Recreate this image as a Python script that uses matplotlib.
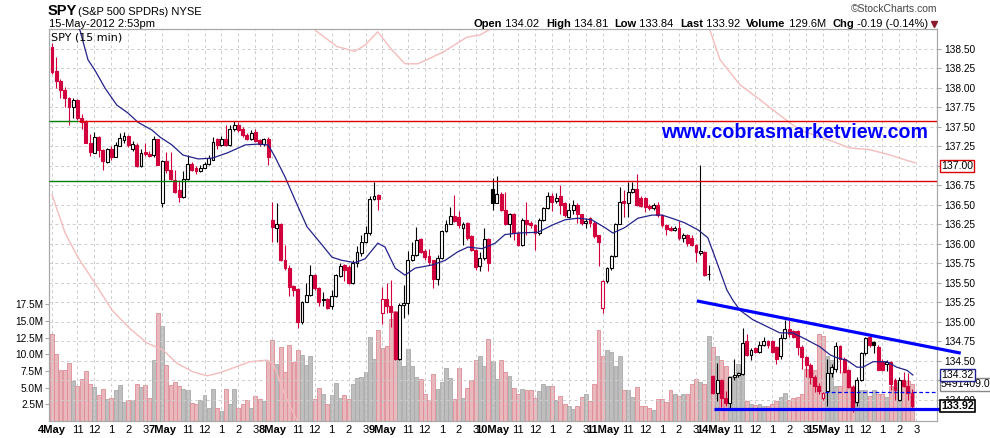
import numpy as np
import matplotlib
matplotlib.use("Agg")
import matplotlib.pyplot as plt
from matplotlib.lines import Line2D
import matplotlib.transforms as mtransforms

plt.rcParams['font.family'] = ['Liberation Sans', 'DejaVu Sans']

# ---------------- data ----------------
days = ["4May", "7May", "8May", "9May", "10May", "11May", "14May", "15May"]
bars_per_day = 26
hour_offsets = [6, 10, 14, 18, 22]
hour_labels = ["11", "12", "1", "2", "3"]

opens = [
    138.53,138.22,138.09,137.97,137.87,137.75,137.85,137.62,137.57,137.30,137.17,137.37,137.21,137.05,137.22,137.12,137.26,137.33,137.39,137.22,137.27,137.00,137.18,137.15,137.14,137.34,
    136.53,137.06,136.95,136.82,136.69,136.60,136.83,137.03,136.98,136.93,136.98,137.03,137.08,137.34,137.27,137.35,137.27,137.48,137.53,137.47,137.40,137.35,137.44,137.33,137.28,137.35,
    136.31,136.21,136.26,135.79,135.69,135.46,135.42,135.00,135.26,135.35,135.60,135.44,135.28,135.30,135.20,135.33,135.59,135.73,135.71,135.50,135.75,135.88,136.02,136.14,136.58,136.63,
    135.11,135.30,135.20,135.13,134.53,135.22,135.24,135.80,135.86,136.06,135.91,135.84,135.79,135.55,135.82,136.16,136.26,136.36,136.35,136.21,136.27,136.10,135.92,135.72,135.82,136.06,
    136.70,136.53,136.64,136.44,136.26,136.39,136.14,135.99,136.31,136.27,136.24,136.14,136.31,136.46,136.62,136.55,136.62,136.52,136.35,136.44,136.50,136.38,136.27,136.33,136.27,136.11,
    135.18,135.52,135.69,135.84,136.26,136.55,136.52,136.66,136.70,136.59,136.59,136.49,136.46,136.50,136.37,136.24,136.21,136.18,136.21,136.07,136.12,136.07,135.99,135.88,135.90,135.62,
    134.31,134.09,134.26,134.02,133.96,134.29,134.32,134.33,134.75,134.58,134.66,134.62,134.71,134.75,134.75,134.68,134.56,134.79,134.91,134.88,134.88,134.68,134.55,134.45,134.30,134.18,
    134.02,134.11,134.35,134.40,134.69,134.53,134.38,134.17,133.98,134.26,134.60,134.81,134.74,134.68,134.49,134.46,134.49,134.26,134.00,134.26,134.18,134.09,
]
highs = [
    138.58,138.40,138.12,138.01,137.89,137.87,137.86,137.66,137.59,137.41,137.43,137.38,137.22,137.23,137.25,137.31,137.42,137.44,137.40,137.32,137.30,137.22,137.30,137.19,137.38,137.35,
    137.08,137.18,137.18,136.95,136.82,136.93,137.14,137.05,137.00,137.01,137.05,137.14,137.37,137.36,137.38,137.52,137.52,137.58,137.57,137.50,137.42,137.46,137.47,137.35,137.36,137.37,
    136.54,136.52,136.27,135.99,135.73,135.48,135.43,135.27,135.50,135.73,135.61,135.45,135.39,135.31,135.41,135.62,135.75,135.74,135.73,135.80,135.97,136.12,136.23,136.61,136.80,136.64,
    135.45,135.50,135.54,135.14,135.24,135.48,135.91,136.03,136.22,136.07,135.94,135.94,135.80,135.86,136.18,136.31,136.48,136.63,136.42,136.28,136.28,136.11,135.93,135.90,136.20,136.07,
    136.84,136.87,136.66,136.67,136.40,136.40,136.16,136.33,136.54,136.30,136.25,136.33,136.47,136.67,136.65,136.65,136.75,136.54,136.52,136.56,136.53,136.39,136.33,136.35,136.29,136.12,
    135.54,135.70,135.86,136.27,136.73,136.69,136.80,136.80,136.90,136.61,136.60,136.51,136.53,136.54,136.38,136.25,136.23,136.23,136.29,136.14,136.13,136.11,136.00,137.01,135.91,135.73,
    134.32,134.47,134.27,134.12,134.30,134.53,134.36,134.92,134.85,134.66,134.68,134.75,134.81,134.77,134.77,134.69,134.85,135.03,135.02,134.90,134.90,134.70,134.56,134.47,134.32,134.22,
    134.10,134.53,134.46,134.74,134.70,134.55,134.40,134.19,134.30,134.61,134.81,134.81,134.76,134.70,134.52,134.51,134.50,134.28,134.30,134.36,134.34,134.14,
]
lows = [
    138.18,138.00,137.87,137.76,137.53,137.61,137.59,137.47,137.30,137.13,137.16,137.12,136.95,137.04,137.08,137.11,137.25,137.30,137.24,137.19,136.99,136.99,137.13,137.12,137.11,137.01,
    136.48,136.91,136.82,136.65,136.54,136.59,136.82,136.93,136.90,136.92,136.97,137.01,137.07,137.22,137.25,137.26,137.26,137.45,137.43,137.37,137.33,137.33,137.31,137.25,137.26,137.01,
    136.03,136.03,135.78,135.67,135.33,135.33,134.92,134.98,135.25,135.33,135.41,135.21,135.20,135.17,135.17,135.32,135.58,135.52,135.49,135.49,135.70,135.85,136.01,136.12,136.56,136.44,
    134.98,135.11,134.94,134.51,134.51,135.05,135.10,135.78,135.84,135.88,135.79,135.73,135.43,135.47,135.81,136.15,136.25,136.28,136.20,135.99,136.05,135.91,135.67,135.65,135.80,135.65,
    136.43,136.52,136.42,136.24,136.09,136.05,135.98,135.97,136.12,136.20,135.92,136.12,136.30,136.45,136.42,136.52,136.39,136.35,136.33,136.38,136.27,136.24,136.20,136.22,136.07,135.72,
    135.11,135.50,135.67,135.83,136.25,136.35,136.35,136.65,136.49,136.48,136.41,136.44,136.44,136.35,136.22,136.12,136.16,136.17,136.05,136.03,135.97,135.97,135.77,135.86,135.59,135.54,
    134.07,133.99,133.91,133.92,133.90,134.26,134.30,134.32,134.56,134.51,134.60,134.60,134.69,134.66,134.60,134.46,134.53,134.78,134.81,134.79,134.58,134.40,134.30,134.20,134.10,134.08,
    134.00,133.92,134.30,134.36,134.34,134.34,134.15,133.84,133.92,134.24,134.58,134.68,134.60,134.38,134.37,134.37,134.13,134.00,133.99,134.16,134.00,133.89,
]
closes = [
    138.21,138.09,137.97,137.87,137.75,137.85,137.62,137.57,137.30,137.18,137.37,137.21,137.06,137.22,137.12,137.27,137.36,137.39,137.27,137.28,137.00,137.17,137.15,137.13,137.34,137.01,
    137.06,136.95,136.83,136.67,136.60,136.83,137.03,136.95,136.93,136.98,137.03,137.10,137.31,137.27,137.35,137.27,137.48,137.53,137.46,137.40,137.35,137.42,137.32,137.28,137.34,137.12,
    136.22,136.26,135.79,135.69,135.45,135.41,135.00,135.26,135.35,135.60,135.43,135.26,135.30,135.18,135.33,135.60,135.72,135.67,135.50,135.75,135.90,136.02,136.14,136.57,136.61,136.57,
    135.29,135.20,135.13,134.53,135.22,135.24,135.80,135.86,136.05,135.90,135.83,135.77,135.55,135.82,136.16,136.26,136.36,136.30,136.24,136.26,136.07,135.92,135.71,135.82,136.06,135.75,
    136.53,136.64,136.44,136.26,136.39,136.14,135.99,136.31,136.26,136.24,136.14,136.31,136.46,136.62,136.54,136.59,136.50,136.37,136.44,136.50,136.38,136.27,136.30,136.27,136.10,136.03,
    135.52,135.69,135.85,136.26,136.54,136.52,136.66,136.70,136.50,136.49,136.47,136.46,136.50,136.37,136.24,136.19,136.18,136.21,136.07,136.12,136.01,135.99,135.90,135.91,135.60,135.61,
    134.09,134.26,134.02,133.96,134.29,134.32,134.34,134.73,134.58,134.64,134.62,134.71,134.75,134.71,134.62,134.53,134.79,134.91,134.85,134.81,134.68,134.55,134.45,134.30,134.18,134.12,
    134.09,134.35,134.42,134.69,134.53,134.36,134.17,133.91,134.26,134.60,134.79,134.70,134.70,134.39,134.38,134.49,134.21,134.13,134.26,134.18,134.09,133.92,
]
volume_m = [
    13.05,10.06,7.71,7.71,8.66,6.06,5.31,6.31,7.56,5.56,5.16,3.82,4.82,3.22,3.47,4.71,5.42,2.92,3.07,3.07,5.56,5.16,5.42,3.47,9.06,16.2,
    14.3,8.32,5.42,5.82,5.31,4.82,4.71,2.72,2.57,3.07,3.92,1.97,4.82,1.97,1.57,4.82,2.5,4.8,1.9,2.5,3.1,1.9,3.7,3.3,3.0,9.0,
    12.15,8.54,11.06,7.41,11.4,8.8,10.66,9.95,8.46,9.8,3.22,4.9,4.06,2.57,3.82,5.7,3.47,3.92,3.3,5.6,6.4,6.6,7.3,12.6,9.3,13.7,
    11.0,11.2,15.3,16.5,11.1,8.2,10.8,8.3,6.6,6.3,4.1,3.2,7.0,4.8,5.8,8.0,6.5,3.3,7.9,3.4,4.9,6.1,9.1,9.8,8.3,12.3,
    9.05,6.3,9.1,7.3,6.7,5.0,4.1,4.8,4.6,4.7,3.4,4.5,5.6,5.2,5.2,3.1,3.8,2.5,2.3,1.8,2.3,3.6,4.0,3.0,5.6,13.7,
    9.8,10.6,10.3,8.3,9.8,4.6,4.6,3.6,5.1,2.3,2.2,2.0,1.6,3.3,3.3,2.8,4.6,4.1,3.8,4.1,4.1,5.6,6.3,5.8,5.6,12.8,
    11.1,9.7,9.1,8.3,6.8,6.8,8.5,7.5,3.0,2.6,2.4,2.6,2.3,2.3,2.6,3.0,3.6,4.2,3.2,3.5,3.6,4.0,7.8,7.8,7.6,13.1,
    12.8,9.7,9.2,5.3,5.3,7.3,6.3,5.3,4.6,4.6,4.6,3.8,4.6,4.1,4.1,3.6,5.3,5.1,5.8,5.8,6.0,5.49,
]

# 20-period moving average (bar index, value)
ma_idx = [0, 3, 6.6, 8.5, 10.1, 12.5, 15.3, 17.9, 20.3, 23.6, 25.5, 28.3, 30.9, 34.5, 37.8, 41.5, 45.6, 48.6, 51,
          52.6, 55, 57.4, 60.2, 62.8, 66.1, 68.4, 71.5, 73.9, 76.9, 78.6, 81, 83.3, 85.7, 89.7, 92.8, 95.8, 98.2,
          101.5, 104.6, 106.9, 110, 114.7, 118, 121.1, 124.1, 127.4, 130.5, 132.4, 135.2, 138.3, 141.6, 144, 146.3,
          149.4, 152.5, 154.8, 156.5, 159.3, 160.7, 162.4, 165.4, 168.8, 171.8, 174.9, 178.2, 181.3, 183.6, 185.3,
          187.6, 190, 191.4, 193.8, 197.1, 199.4, 201.8, 203.2]
ma_val = [139.35, 139.05, 138.74, 138.36, 138.23, 138.0, 137.78, 137.68, 137.56, 137.46, 137.37, 137.27, 137.14,
          137.09, 137.10, 137.17, 137.27, 137.28, 137.27, 137.12, 136.86, 136.56, 136.22, 136.05, 135.83, 135.79,
          135.76, 135.81, 136.01, 135.96, 135.69, 135.60, 135.69, 135.73, 135.79, 135.90, 135.96, 135.94, 136.01,
          136.12, 136.14, 136.15, 136.24, 136.31, 136.33, 136.31, 136.21, 136.14, 136.21, 136.33, 136.37, 136.37,
          136.33, 136.27, 136.18, 136.08, 135.83, 135.41, 135.28, 135.15, 135.03, 134.94, 134.86, 134.86, 134.77,
          134.68, 134.58, 134.54, 134.51, 134.42, 134.42, 134.49, 134.49, 134.42, 134.38, 134.32]

# long light-red overlay (bar index, value); nan = break
pink_idx = [0, 3.1, 6.1, 10.1, 14.2, 17.9, 22.4, 26.2, 29.5, 33.3, 36.6, 39.7, 42.7, 46.7, 50.7, 52.2, 55, 57.8, 59,
            np.nan,
            60.9, 62.1, 67.3, 71.5, 73.9, 76.9, 80.2, 83.3, 86.4, 92.3, 97.9, 101, 104, 105.7,
            np.nan,
            154, 155.3, 157.7, 162.4, 167.1, 171.8, 176.5, 183.6, 188.3, 193, 197.8, 201.3, 203.7]
pink_val = [136.63, 136.14, 135.83, 135.50, 135.15, 134.94, 134.73, 134.64, 134.47, 134.36, 134.31, 134.35, 134.41,
            134.49, 134.51, 134.47, 134.06, 133.74, 133.55,
            np.nan,
            138.94, 138.74, 138.53, 138.47, 138.55, 138.72, 138.49, 138.31, 138.31, 138.46, 138.65, 138.68, 138.77, 138.94,
            np.nan,
            138.94, 138.74, 138.36, 138.04, 137.85, 137.65, 137.46, 137.33, 137.23, 137.21, 137.14, 137.08, 137.04]

# drawn annotation lines
level_prices = [137.58, 136.81]
level_green_until = [6.1, 51.5]
trend_idx = [152.2, 214.5]
trend_val = [135.27, 134.60]
support_start, support_price = 156.2, 133.89
dash_start, dash_price = 182.5, 134.10

pink_last = 137.00
ma_last = 134.32
last_close = 133.92
last_volume = 5491409.0

price_ticks = [134.00, 134.25, 134.50, 134.75, 135.00, 135.25, 135.50, 135.75, 136.00, 136.25,
               136.50, 136.75, 137.00, 137.25, 137.50, 137.75, 138.00, 138.25, 138.50]
volume_ticks = [2.5, 5.0, 7.5, 10.0, 12.5, 15.0, 17.5]

header_pieces = [("Open", True), (" 134.02  ", False), ("High", True), (" 134.81  ", False),
                 ("Low", True), (" 133.84  ", False), ("Last", True), (" 133.92  ", False),
                 ("Volume", True), (" 129.6M  ", False), ("Chg", True), (" -0.19 (-0.14%)", False)]

# ---------------- figure ----------------
W, H = 990, 438
fig = plt.figure(figsize=(W / 100, H / 100), dpi=100)
L, R, T, B = 49, 937, 29, 421
axv = fig.add_axes([L / W, 1 - B / H, (R - L) / W, (B - T) / H])
axp = axv.twinx()

RED = '#D2003C'
GRID = '#CDCDCD'
SPINE = '#A8A8A8'

n = len(closes)
x = np.arange(n)
o = np.array(opens); h = np.array(highs); l = np.array(lows); c = np.array(closes)
prev = np.r_[np.inf, c[:-1]]
down = c < prev
col = np.where(down, RED, 'black')
hollow = c >= o

# volume
vfaces = np.where(down, '#E9B8BD', '#BEBEBE')
vedges = np.where(down, '#DE8C96', '#A9A9A9')
axv.bar(x, volume_m, width=0.92, color=vfaces, edgecolor=vedges, linewidth=0.6, zorder=1)
axv.set_ylim(0, 58.7)
axv.set_xlim(-0.71, 208.9)
axv.set_yticks(volume_ticks)
axv.set_yticklabels([f"{v:.1f}M" for v in volume_ticks])
axv.set_axisbelow(False)
axv.grid(True, axis='x', color=GRID, linestyle=(0, (3, 3)), linewidth=0.7, zorder=2)

# x ticks
xt, xl, bold = [], [], []
for d, name in enumerate(days):
    s = d * bars_per_day
    xt.append(s); xl.append(name); bold.append(True)
    for off, lab in zip(hour_offsets, hour_labels):
        xt.append(s + off); xl.append(lab); bold.append(False)
axv.set_xticks(xt)
axv.set_xticklabels(xl)
for t, b in zip(axv.get_xticklabels(), bold):
    t.set_fontweight('bold' if b else 'normal')
axv.tick_params(axis='x', length=0, pad=3, labelsize=8, colors='black')
axv.tick_params(axis='y', length=3, pad=1, labelsize=7.3, color=SPINE, labelcolor='black')

# price
axp.set_ylim(133.73, 138.756)
axp.set_yticks(price_ticks)
axp.set_yticklabels([f"{p:.2f}" for p in price_ticks])
axp.tick_params(axis='y', length=3, pad=2, labelsize=7.3, color=SPINE, labelcolor='black')
axp.grid(True, axis='y', color=GRID, linestyle=(0, (3, 3)), linewidth=0.7)
for ax in (axv, axp):
    for sp in ax.spines.values():
        sp.set_color(SPINE)
        sp.set_linewidth(0.8)

axp.plot(pink_idx, pink_val, color='#F4BCBC', lw=1.0, zorder=2)

axp.vlines(x, l, h, colors=col, lw=0.8, zorder=3)
faces = np.where(hollow, 'white', col)
axp.bar(x, np.maximum(np.abs(c - o), 0.008), bottom=np.minimum(o, c), width=0.68,
        color=faces, edgecolor=col, linewidth=0.8, zorder=4)

axp.plot(ma_idx, ma_val, color='#22228C', lw=0.9, zorder=5)

for lvl, g in zip(level_prices, level_green_until):
    axp.hlines(lvl, -0.71, g, color='#008000', lw=1.0, zorder=5)
    axp.hlines(lvl, g, 208.9, color='#E00000', lw=1.0, zorder=5)

axp.plot(trend_idx, trend_val, color='#0000FF', lw=2.3, zorder=6, clip_on=False, solid_capstyle='butt')
axp.plot([support_start, 209.6], [support_price, support_price], color='#0000FF', lw=2.3, zorder=6,
         clip_on=False, solid_capstyle='butt')
axp.plot([dash_start, 208.9], [dash_price, dash_price], color='#0000FF', lw=0.9, ls=(0, (3, 2)), zorder=6)

# right-side value flags
tp = mtransforms.blended_transform_factory(axp.transAxes, axp.transData)
tv = mtransforms.blended_transform_factory(axv.transAxes, axv.transData)
fx = (941 - L) / (R - L)
axp.text(fx, pink_last, f"{pink_last:.2f}", transform=tp, va='center', ha='left', fontsize=7.6,
         bbox=dict(boxstyle='square,pad=0.12', fc='white', ec='#E00000', lw=1.0), zorder=7, clip_on=False)
axp.text(fx, last_volume / 1e6, f"{last_volume:.1f}", transform=tv, va='center', ha='left', fontsize=7.6,
         bbox=dict(boxstyle='square,pad=0.12', fc='white', ec='#888888', lw=1.0), zorder=7, clip_on=False)
axp.text(fx, ma_last, f"{ma_last:.2f}", transform=tp, va='center', ha='left', fontsize=7.6,
         bbox=dict(boxstyle='square,pad=0.12', fc='white', ec='#22228C', lw=1.0), zorder=8, clip_on=False)
axp.text(fx, last_close, f"{last_close:.2f}", transform=tp, va='center', ha='left', fontsize=7.8,
         fontweight='bold', bbox=dict(boxstyle='square,pad=0.12', fc='white', ec='black', lw=1.2),
         zorder=9, clip_on=False)

# ---------------- header texts ----------------
def fy(y):
    return 1 - y / H

fig.text(48 / W, fy(15), "SPY", fontsize=10.5, fontweight='bold', va='baseline')
fig.text(78 / W, fy(15), "(S&P 500 SPDRs) NYSE", fontsize=8, va='baseline')
fig.text(49 / W, fy(27), "15-May-2012 2:53pm", fontsize=8, va='baseline')
fig.text(51 / W, fy(41), "SPY (15 min)", fontsize=8, va='baseline', family='DejaVu Sans')
fig.text(937 / W, fy(12), "\u00a9StockCharts.com", fontsize=7.5, color='#444444', ha='right', va='baseline')

renderer = fig.canvas.get_renderer()
objs = []
for s, b in header_pieces:
    objs.append(fig.text(0, fy(27), s, fontsize=8, fontweight='bold' if b else 'normal', va='baseline'))
widths = [t.get_window_extent(renderer).width for t in objs]
xx = 928 - sum(widths)
for t, w in zip(objs, widths):
    t.set_x(xx / W)
    xx += w
fig.add_artist(Line2D([934 / W], [fy(24)], marker='v', markersize=4.5, color='#8B1A2B',
                      linestyle='none', transform=fig.transFigure))

fig.text(928 / W, fy(133), "www.cobrasmarketview.com", ha='right', va='center', fontsize=14.1,
         fontweight='bold', color='#0000FF')

fig.savefig("out.png", dpi=100)
